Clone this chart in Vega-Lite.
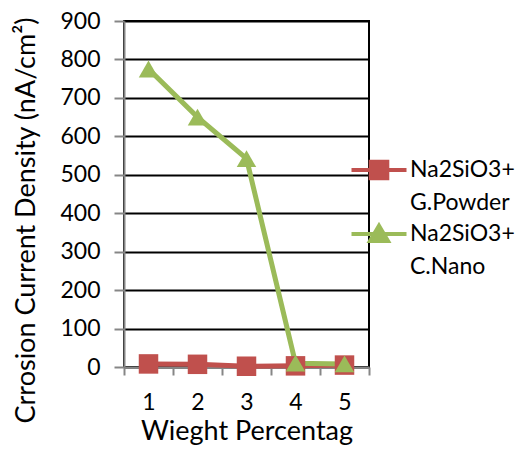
{
  "$schema": "https://vega.github.io/schema/vega-lite/v6.json",
  "width": 245,
  "height": 346,
  "autosize": "none",
  "padding": {"left": 124, "top": 21, "right": 152, "bottom": 98},
  "background": "white",
  "config": {
    "font": "Lato",
    "view": {"stroke": "black", "strokeWidth": 2}
  },
  "data": {
    "values": [
      {"w": "1", "v": 8, "s": "Na2SiO3+ G.Powder"},
      {"w": "2", "v": 7, "s": "Na2SiO3+ G.Powder"},
      {"w": "3", "v": 2, "s": "Na2SiO3+ G.Powder"},
      {"w": "4", "v": 3, "s": "Na2SiO3+ G.Powder"},
      {"w": "5", "v": 5, "s": "Na2SiO3+ G.Powder"},
      {"w": "1", "v": 775, "s": "Na2SiO3+ C.Nano"},
      {"w": "2", "v": 650, "s": "Na2SiO3+ C.Nano"},
      {"w": "3", "v": 542, "s": "Na2SiO3+ C.Nano"},
      {"w": "4", "v": 10, "s": "Na2SiO3+ C.Nano"},
      {"w": "5", "v": 8, "s": "Na2SiO3+ C.Nano"}
    ]
  },
  "encoding": {
    "x": {
      "field": "w",
      "type": "ordinal",
      "bandPosition": 0.5,
      "scale": {"type": "band", "paddingInner": 0, "paddingOuter": 0},
      "axis": {
        "title": "Wieght Percentag",
        "titleFontSize": 27,
        "titleFontWeight": "normal",
        "titleColor": "black",
        "titlePadding": 4,
        "labelAngle": 0,
        "labelFontSize": 23,
        "labelColor": "black",
        "labelPadding": 16,
        "tickBand": "extent",
        "tickColor": "#868686",
        "tickSize": 8,
        "tickWidth": 2,
        "domainColor": "#868686",
        "domainWidth": 2,
        "grid": false
      }
    },
    "y": {
      "field": "v",
      "type": "quantitative",
      "scale": {"domain": [0, 900], "nice": false},
      "axis": {
        "title": "Crrosion Current Density  (nA/cm²)",
        "titleFontSize": 27,
        "titleFontWeight": "normal",
        "titleColor": "black",
        "titleX": -98,
        "titleY": 199,
        "titleBaseline": "middle",
        "values": [0, 100, 200, 300, 400, 500, 600, 700, 800, 900],
        "labelFontSize": 23,
        "labelColor": "black",
        "labelPadding": 14,
        "tickColor": "#868686",
        "tickSize": 10,
        "tickWidth": 2,
        "domainColor": "#868686",
        "domainWidth": 2,
        "grid": true,
        "gridColor": "black",
        "gridWidth": 2
      }
    },
    "color": {
      "field": "s",
      "type": "nominal",
      "scale": {"domain": ["Na2SiO3+ G.Powder", "Na2SiO3+ C.Nano"], "range": ["#C0504D", "#9BBB59"]},
      "legend": {
        "title": null,
        "orient": "none",
        "legendX": 243,
        "legendY": 137,
        "padding": 0,
        "labelFontSize": 23,
        "labelFont": "Lato",
        "labelColor": "black",
        "labelLimit": 300,
        "labelBaseline": "middle",
        "labelOffset": 19,
        "symbolSize": 400,
        "symbolStrokeWidth": 4,
        "labelExpr": "split(datum.label, ' ')",
        "encode": {
          "labels": {
            "update": {
              "lineHeight": {"value": 33}
            }
          },
          "symbols": {
            "update": {
              "shape": {"signal": "datum.value == 'Na2SiO3+ G.Powder' ? 'M-2.75,0H2.75M-0.83,-0.83H0.83V0.83H-0.83Z' : 'M-2.75,0H2.75M0,-0.83L0.9,0.69H-0.9Z'"},
              "stroke": {"signal": "datum.value == 'Na2SiO3+ G.Powder' ? '#C0504D' : '#9BBB59'"},
              "fill": {"signal": "datum.value == 'Na2SiO3+ G.Powder' ? '#C0504D' : '#9BBB59'"},
              "strokeWidth": {"value": 4},
              "opacity": {"value": 1}
            }
          }
        }
      }
    }
  },
  "layer": [
    {
      "mark": {"type": "line", "strokeWidth": 5}
    },
    {
      "transform": [{"filter": "datum.s == 'Na2SiO3+ G.Powder'"}],
      "mark": {"type": "point", "filled": true, "opacity": 1, "size": 380, "shape": "square"}
    },
    {
      "transform": [{"filter": "datum.s == 'Na2SiO3+ C.Nano'"}],
      "mark": {"type": "point", "filled": true, "opacity": 1, "size": 380, "shape": "triangle-up"}
    }
  ]
}
